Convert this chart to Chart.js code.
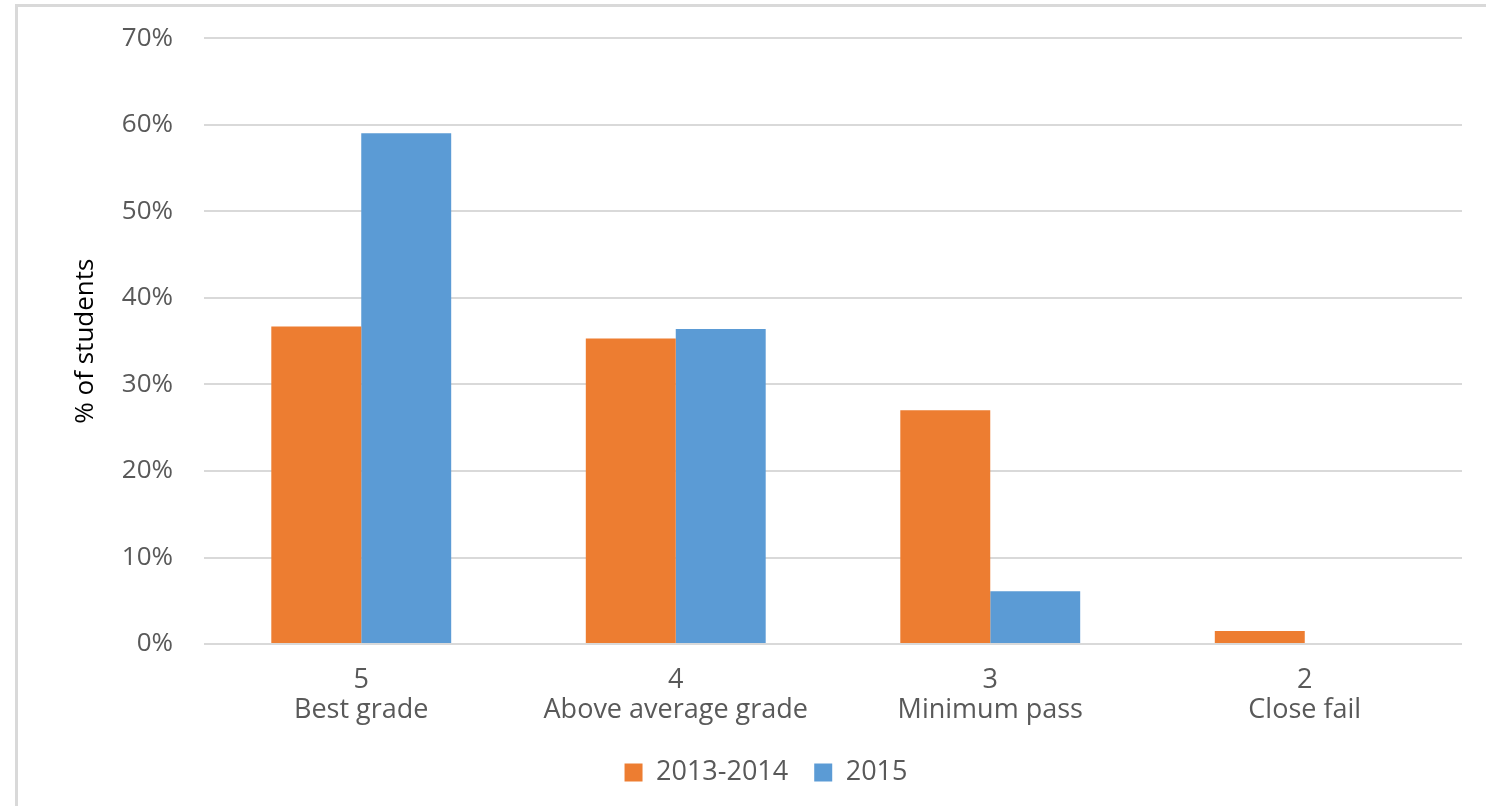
<!DOCTYPE html>
<html>
<head>
<meta charset="utf-8">
<title>Grades by year</title>
<script src="https://cdn.jsdelivr.net/npm/chart.js@4/dist/chart.umd.min.js"></script>
<style>
  html, body { margin: 0; padding: 0; background: #fff; overflow: hidden; }
  #frame {
    position: absolute; left: 15px; top: 4px; width: 1600px; height: 900px;
    border-top: 3px solid #d9d9d9; border-left: 3px solid #d9d9d9;
  }
  #wrap { position: absolute; left: 0; top: 0; width: 1486px; height: 806px; }
</style>
</head>
<body>
<div id="frame"></div>
<div id="wrap"><canvas id="grades"></canvas></div>
<script>
// grade categories (number + description on two lines)
var grades = [['5', 'Best grade'], ['4', 'Above average grade'], ['3', 'Minimum pass'], ['2', 'Close fail']];
var share2013 = [36.7, 35.3, 27.0, 1.5];
var share2015 = [59.0, 36.4, 6.1, 0];
var yTicks = [0, 10, 20, 30, 40, 50, 60, 70];

var grayText = '#595959';
var fontFamily = '"Open Sans", "Noto Sans", sans-serif';

var ctx = document.getElementById('grades');
var chart = new Chart(ctx, {
  type: 'bar',
  data: {
    labels: grades,
    datasets: [{
      label: '2013-2014',
      data: share2013,
      backgroundColor: '#ED7D31',
      borderWidth: 0
    }, {
      label: '2015',
      data: share2015,
      backgroundColor: '#5B9BD5',
      borderWidth: 0
    }]
  },
  options: {
    responsive: true,
    maintainAspectRatio: false,
    animation: false,
    events: [],
    datasets: {
      bar: { barPercentage: 1, categoryPercentage: 0.572 }
    },
    layout: { padding: { top: 0, right: 24, left: 70, bottom: 10 } },
    plugins: {
      tooltip: { enabled: false },
      legend: {
        position: 'bottom',
        labels: {
          color: grayText,
          font: { family: fontFamily, size: 27 },
          boxWidth: 18,
          boxHeight: 18,
          padding: 26
        }
      }
    },
    scales: {
      x: {
        grid: { display: false, drawTicks: false },
        border: { display: false },
        // let the two-line labels sit a bit into the legend's top padding
        afterFit: function (axis) {
          axis.height -= 13;
        },
        ticks: {
          color: grayText,
          font: { family: fontFamily, size: 27, lineHeight: 1.11 },
          padding: 21,
          maxRotation: 0
        }
      },
      y: {
        min: 0,
        max: 70,
        afterBuildTicks: function (axis) {
          axis.ticks = yTicks.map(function (v) { return { value: v }; });
        },
        // fixed axis width so the plot starts at the same x every time
        afterFit: function (axis) {
          axis.width = 134;
        },
        grid: { color: '#d9d9d9', lineWidth: 2, drawTicks: false },
        border: { display: false },
        ticks: {
          color: grayText,
          // small line height keeps the top gridline close to the canvas edge
          font: { family: fontFamily, size: 26, lineHeight: 0.55 },
          padding: 31,
          callback: function (v) { return v + '%'; }
        },
        title: {
          display: true,
          text: '% of students',
          color: '#000',
          font: { family: fontFamily, size: 26 },
          padding: 0
        }
      }
    }
  }
});
</script>
</body>
</html>
